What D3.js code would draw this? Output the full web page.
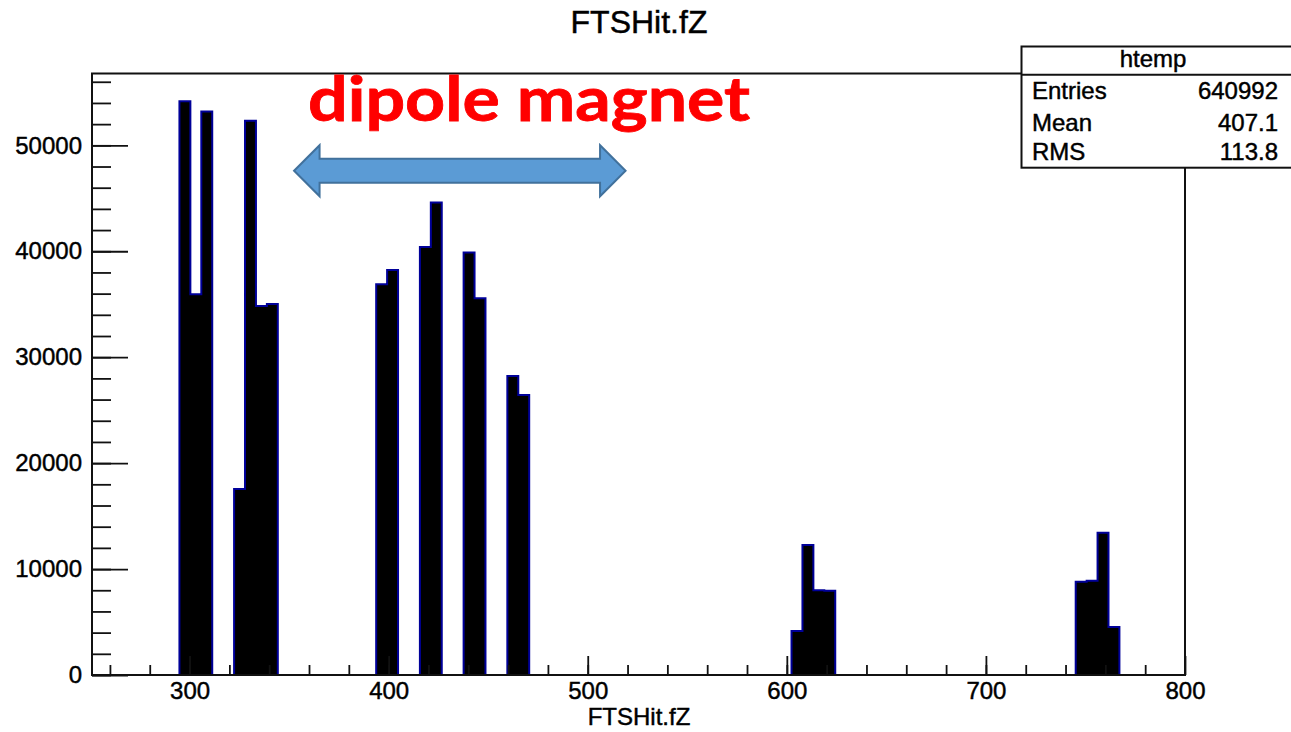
<!DOCTYPE html>
<html>
<head>
<meta charset="utf-8">
<script src="https://cdn.jsdelivr.net/npm/d3@7"></script>
<style>
  body { margin: 0; background: #fff; }
  svg { display: block; }
  .root-text { stroke: #000; stroke-width: 0.45px; fill: #000; }
</style>
</head>
<body>
<div id="chart"></div>
<script>
// histogram binning (htemp, 100 bins)
var zMin = 251, zMax = 800, nBins = 100;

// non-empty bins and their contents
var filledBins = [8, 9, 10, 13, 14, 15, 16, 26, 27, 30, 31, 34, 35, 38, 39, 64, 65, 66, 67, 90, 91, 92, 93];
var binCounts = [54150, 35950, 53200, 17550, 52320, 34840, 35030, 36890, 38240, 40410, 44600,
                 39880, 35570, 28230, 26430, 4160, 12260, 8000, 7950, 8800, 8900, 13420, 4540];

var yMax = 56780;
var xMajorTicks = [300, 400, 500, 600, 700, 800];
var yMajorTicks = [0, 10000, 20000, 30000, 40000, 50000];

// stats box
var statsTitle = "htemp";
var statsNames = ["Entries", "Mean", "RMS"];
var statsValues = ["640992", "407.1", "113.8"];

// annotation (in data units)
var arrowZ = [352.5, 519];
var arrowCount = 47600;
var labelZ = 359.5;
var labelCount = 52300;

var W = 1291, H = 732;
var frame = {left: 92, right: 1185, top: 73.5, bottom: 675};

var binWidth = (zMax - zMin) / nBins;

var x = d3.scaleLinear().domain([zMin, zMax]).range([frame.left, frame.right]);
var y = d3.scaleLinear().domain([0, yMax]).range([frame.bottom, frame.top]);

var svg = d3.select("#chart").append("svg")
  .attr("width", W)
  .attr("height", H);

svg.append("rect").attr("width", W).attr("height", H).attr("fill", "#fff");

// full bin contents (empty bins are zero)
var allBins = d3.range(nBins).map(function(i) {
  var j = filledBins.indexOf(i);
  return {z: zMin + i * binWidth, c: j < 0 ? 0 : binCounts[j]};
});
allBins.push({z: zMax, c: 0});

var area = d3.area()
  .x(function(d) { return x(d.z); })
  .y0(y(0))
  .y1(function(d) { return y(d.c); })
  .curve(d3.curveStepAfter);

svg.append("path")
  .datum(allBins)
  .attr("d", area)
  .attr("fill", "#000")
  .attr("stroke", "#000099")
  .attr("stroke-width", 2)
  .attr("stroke-linejoin", "miter");

var font = "'Liberation Sans', Arial, sans-serif";

// x axis: minor ticks every 20, major every 100 (ticks point inward)
svg.append("g")
  .attr("transform", "translate(0," + frame.bottom + ")")
  .call(d3.axisBottom(x).tickValues(d3.range(260, 800, 20)).tickSize(-10).tickFormat(""))
  .call(function(g) { g.select(".domain").remove(); });

var xAx = svg.append("g")
  .attr("transform", "translate(0," + frame.bottom + ")")
  .call(d3.axisBottom(x).tickValues(xMajorTicks).tickSize(-19).tickPadding(7).tickFormat(d3.format("d")));
xAx.select(".domain").remove();
xAx.selectAll("text").attr("class", "root-text").attr("font-family", font).attr("font-size", 24);

// y axis: minor every 2000, major every 10000
svg.append("g")
  .attr("transform", "translate(" + frame.left + ",0)")
  .call(d3.axisLeft(y).tickValues(d3.range(0, yMax, 2000)).tickSize(-19).tickFormat(""))
  .call(function(g) { g.select(".domain").remove(); });

var yAx = svg.append("g")
  .attr("transform", "translate(" + frame.left + ",0)")
  .call(d3.axisLeft(y).tickValues(yMajorTicks).tickSize(-36).tickPadding(10).tickFormat(d3.format("d")));
yAx.select(".domain").remove();
yAx.selectAll("text").attr("class", "root-text").attr("font-family", font).attr("font-size", 24);

svg.selectAll(".tick line").attr("stroke", "#111").attr("stroke-width", 1.8);

// frame
svg.append("rect")
  .attr("x", frame.left)
  .attr("y", frame.top)
  .attr("width", frame.right - frame.left)
  .attr("height", frame.bottom - frame.top)
  .attr("fill", "none")
  .attr("stroke", "#111")
  .attr("stroke-width", 2);

// titles
svg.append("text")
  .attr("class", "root-text")
  .attr("x", 639)
  .attr("y", 33)
  .attr("text-anchor", "middle")
  .attr("font-family", font)
  .attr("font-size", 32)
  .text("FTSHit.fZ");

svg.append("text")
  .attr("class", "root-text")
  .attr("x", 639)
  .attr("y", 725)
  .attr("text-anchor", "middle")
  .attr("font-family", font)
  .attr("font-size", 24)
  .text("FTSHit.fZ");

// stats box
var box = {x: 1021.5, y: 46.5, w: 300, rowH: 30.3};
var sb = svg.append("g");
sb.append("rect")
  .attr("x", box.x).attr("y", box.y)
  .attr("width", box.w).attr("height", box.rowH * 4)
  .attr("fill", "#fff").attr("stroke", "#111").attr("stroke-width", 2);
sb.append("line")
  .attr("x1", box.x).attr("x2", box.x + box.w)
  .attr("y1", box.y + box.rowH - 2).attr("y2", box.y + box.rowH - 2)
  .attr("stroke", "#111").attr("stroke-width", 2);
sb.append("text")
  .attr("class", "root-text")
  .attr("x", 1153).attr("y", box.y + 20)
  .attr("text-anchor", "middle")
  .attr("font-family", font).attr("font-size", 24)
  .text(statsTitle);
statsNames.forEach(function(n, i) {
  var by = [98.5, 130.5, 160][i];
  sb.append("text")
    .attr("class", "root-text")
    .attr("x", 1032).attr("y", by)
    .attr("font-family", font).attr("font-size", 24)
    .text(n);
  sb.append("text")
    .attr("class", "root-text")
    .attr("x", 1278).attr("y", by)
    .attr("text-anchor", "end")
    .attr("font-family", font).attr("font-size", 24)
    .text(statsValues[i]);
});

// dipole magnet annotation
svg.append("text")
  .attr("x", x(labelZ))
  .attr("y", y(labelCount))
  .attr("font-family", "Lato, 'Open Sans', sans-serif")
  .attr("font-weight", "bold")
  .attr("font-size", 62)
  .attr("fill", "#ff0000")
  .attr("stroke", "#ff0000")
  .attr("stroke-width", 0.8)
  .attr("textLength", 442)
  .attr("lengthAdjust", "spacingAndGlyphs")
  .text("dipole magnet");

var ax0 = x(arrowZ[0]), ax1 = x(arrowZ[1]), ay = y(arrowCount);
var headL = 25.5, headH = 25.5, shaftH = 12;
var arrowPts = [
  [ax0, ay], [ax0 + headL, ay - headH], [ax0 + headL, ay - shaftH],
  [ax1 - headL, ay - shaftH], [ax1 - headL, ay - headH], [ax1, ay],
  [ax1 - headL, ay + headH], [ax1 - headL, ay + shaftH],
  [ax0 + headL, ay + shaftH], [ax0 + headL, ay + headH]
];
svg.append("path")
  .attr("d", d3.line()(arrowPts) + "Z")
  .attr("fill", "#5b9bd5")
  .attr("stroke", "#41719c")
  .attr("stroke-width", 2);
</script>
</body>
</html>
